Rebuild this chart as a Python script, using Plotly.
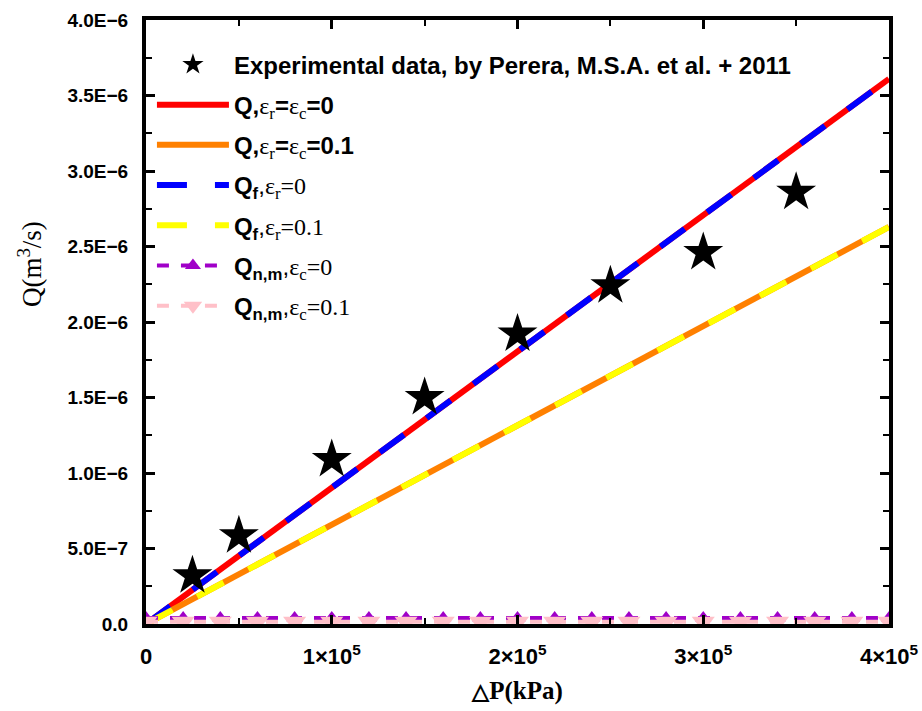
import plotly.graph_objects as go

# ---- data ----
exp_dp = [2.5e4, 5e4, 1e5, 1.5e5, 2e5, 2.5e5, 3e5, 3.5e5]
exp_q = [0.32e-6, 0.585e-6, 1.09e-6, 1.50e-6, 1.92e-6, 2.24e-6, 2.46e-6, 2.86e-6]

line_dp = [0, 4e5]
q_eps0 = [0.0, 3.61e-6]
q_eps01 = [0.0, 2.63e-6]
qf_eps0 = [0.0, 3.61e-6]
qf_eps01 = [0.0, 2.63e-6]

nm_dp = [0, 2e4, 4e4, 6e4, 8e4, 1e5, 1.2e5, 1.4e5, 1.6e5, 1.8e5, 2e5,
         2.2e5, 2.4e5, 2.6e5, 2.8e5, 3e5, 3.2e5, 3.4e5, 3.6e5, 3.8e5, 4e5]
qnm_eps0 = [0.04e-6, 0.04e-6, 0.04e-6, 0.04e-6, 0.04e-6, 0.04e-6, 0.04e-6,
            0.04e-6, 0.04e-6, 0.04e-6, 0.04e-6, 0.04e-6, 0.04e-6, 0.04e-6,
            0.04e-6, 0.04e-6, 0.04e-6, 0.04e-6, 0.04e-6, 0.04e-6, 0.04e-6]
qnm_eps01 = [0.015e-6, 0.015e-6, 0.015e-6, 0.015e-6, 0.015e-6, 0.015e-6, 0.015e-6,
             0.015e-6, 0.015e-6, 0.015e-6, 0.015e-6, 0.015e-6, 0.015e-6, 0.015e-6,
             0.015e-6, 0.015e-6, 0.015e-6, 0.015e-6, 0.015e-6, 0.015e-6, 0.015e-6]

x_tickvals = [0, 1e5, 2e5, 3e5, 4e5]
x_ticktext = ["0", "1×10<sup>5</sup>", "2×10<sup>5</sup>", "3×10<sup>5</sup>", "4×10<sup>5</sup>"]
y_tickvals = [0, 0.5e-6, 1.0e-6, 1.5e-6, 2.0e-6, 2.5e-6, 3.0e-6, 3.5e-6, 4.0e-6]
y_ticktext = ["0.0", "5.0E−7", "1.0E−6", "1.5E−6", "2.0E−6", "2.5E−6", "3.0E−6", "3.5E−6", "4.0E−6"]
x_minor = [0.5e5, 1.5e5, 2.5e5, 3.5e5]
y_minor = [0.25e-6, 0.75e-6, 1.25e-6, 1.75e-6, 2.25e-6, 2.75e-6, 3.25e-6, 3.75e-6]

SERIF = "font-family:Liberation Serif"


def eps(sub):
    return f"<span style='{SERIF}'>ε<sub>{sub}</sub></span>"


def serif(t):
    return f"<span style='{SERIF};font-weight:normal'>{t}</span>"


fig = go.Figure()

fig.add_trace(go.Scatter(x=line_dp, y=q_eps0, mode="lines",
                         line=dict(color="#FF0000", width=6),
                         name=f"<b>Q,</b>{eps('r')}<b>=</b>{eps('c')}<b>=0</b>",
                         legendrank=2, legendgroup="a"))
fig.add_trace(go.Scatter(x=line_dp, y=q_eps01, mode="lines",
                         line=dict(color="#FF8000", width=6),
                         name=f"<b>Q,</b>{eps('r')}<b>=</b>{eps('c')}<b>=0.1</b>",
                         legendrank=3, legendgroup="b"))
fig.add_trace(go.Scatter(x=line_dp, y=qf_eps0, mode="lines",
                         line=dict(color="#0000FF", width=6, dash="30px,28px"),
                         name=f"<b>Q<sub>f</sub></b>,{serif('ε<sub>r</sub>=0')}",
                         legendrank=4, legendgroup="c"))
fig.add_trace(go.Scatter(x=line_dp, y=qf_eps01, mode="lines",
                         line=dict(color="#FFFF00", width=6, dash="30px,28px"),
                         name=f"<b>Q<sub>f</sub></b>,{serif('ε<sub>r</sub>=0.1')}",
                         legendrank=5, legendgroup="d"))
fig.add_trace(go.Scatter(x=nm_dp, y=qnm_eps0, mode="lines+markers",
                         line=dict(color="#A000C8", width=4, dash="dash"),
                         marker=dict(symbol="triangle-up", size=14, color="#A000C8"),
                         name=f"<b>Q<sub>n,m</sub></b>,{serif('ε<sub>c</sub>=0')}",
                         legendrank=6, legendgroup="e"))
fig.add_trace(go.Scatter(x=nm_dp, y=qnm_eps01, mode="lines+markers",
                         line=dict(color="#FFC0C8", width=4, dash="dash"),
                         marker=dict(symbol="triangle-down", size=20, color="#FFC0C8"),
                         name=f"<b>Q<sub>n,m</sub></b>,{serif('ε<sub>c</sub>=0.1')}",
                         legendrank=7, legendgroup="f"))
fig.add_trace(go.Scatter(x=exp_dp, y=exp_q, mode="markers",
                         marker=dict(symbol="star", size=30, color="black"),
                         name="<b>Experimental data, by Perera, M.S.A. et al. + 2011</b>",
                         legendrank=1, legendgroup="g"))

axis_common = dict(showline=True, linecolor="black", linewidth=4, mirror="ticks",
                   ticks="inside", ticklen=9, tickwidth=3, tickcolor="black",
                   showgrid=False, zeroline=False, automargin=False)

fig.update_xaxes(range=[0, 4e5], tickmode="array", tickvals=x_tickvals, ticktext=x_ticktext,
                 minor=dict(tickmode="array", tickvals=x_minor, ticks="inside", ticklen=6,
                            tickwidth=2, tickcolor="black"),
                 title=dict(text="<b><span style='font-size:22px'>△</span>P(kPa)</b>", standoff=14,
                            font=dict(family="Liberation Serif", size=25, color="black")),
                 tickfont=dict(family="Liberation Sans", size=22, color="black", weight="bold"),
                 ticklabelstandoff=10,
                 **axis_common)
fig.update_yaxes(range=[0, 4e-6], tickmode="array", tickvals=y_tickvals, ticktext=y_ticktext,
                 minor=dict(tickmode="array", tickvals=y_minor, ticks="inside", ticklen=6,
                            tickwidth=2, tickcolor="black"),
                 tickfont=dict(family="Liberation Sans", size=19, color="black", weight="bold"),
                 ticklabelstandoff=10,
                 **axis_common)

fig.add_annotation(text="Q(m<sup>3</sup>/s)", xref="paper", yref="paper",
                   x=-0.156, y=0.596, textangle=-90, showarrow=False,
                   font=dict(family="Liberation Serif", size=27, color="black"),
                   xanchor="center", yanchor="middle")

fig.update_layout(
    width=922, height=711,
    margin=dict(l=146, r=33, t=20, b=87),
    plot_bgcolor="white", paper_bgcolor="white",
    legend=dict(x=0.008, y=0.963, xanchor="left", yanchor="top",
                bgcolor="rgba(0,0,0,0)", itemwidth=72, tracegroupgap=6,
                font=dict(family="Liberation Sans", size=24, color="black")),
)

fig.write_html("out.html")
